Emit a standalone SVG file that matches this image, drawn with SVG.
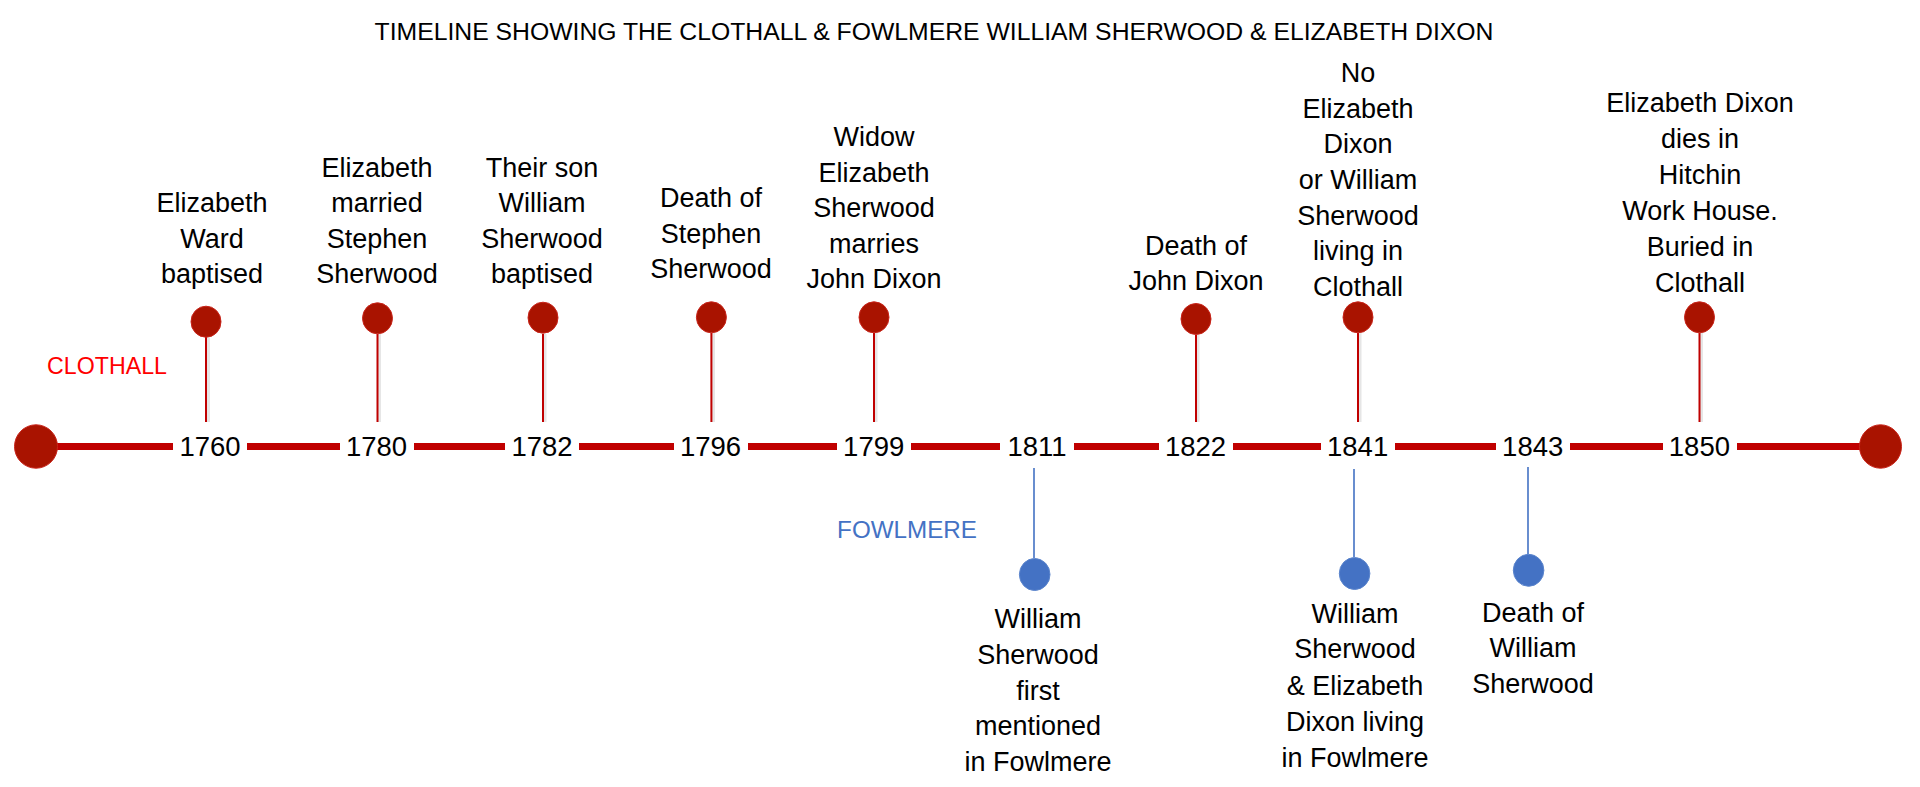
<svg xmlns="http://www.w3.org/2000/svg" width="1920" height="787" viewBox="0 0 1920 787">
<style>
text{font-family:"Liberation Sans",Arial,sans-serif;fill:#000;text-anchor:middle}
.lbl{font-size:27px}
.yr{font-size:27.5px}
.title{font-size:24.75px}
.bar{stroke:#C00000;stroke-width:7;fill:none}
.pin{stroke:#C00000;stroke-width:2;fill:none}
.pinsh{stroke:#e6e6e6;stroke-width:3;fill:none}
.bpin{stroke:#4472C4;stroke-width:1.6;fill:none}
.rdot{fill:#A91300;stroke:#C8241A;stroke-width:1}
.bdot{fill:#4472C4;stroke:#5A84CC;stroke-width:1}
</style>
<rect width="1920" height="787" fill="#fff"/>
<text class="title" x="934" y="40">TIMELINE SHOWING THE CLOTHALL &amp; FOWLMERE WILLIAM SHERWOOD &amp; ELIZABETH DIXON</text>
<text x="107" y="374" style="font-size:23.2px;fill:#FF0000">CLOTHALL</text>
<text x="907" y="538" style="font-size:24.2px;fill:#4472C4">FOWLMERE</text>

<g id="connectors">
<path class="bar" d="M57 446.5H173M247 446.5H340M414 446.5H505M579 446.5H674M748 446.5H837M911 446.5H1000M1074 446.5H1159M1233 446.5H1321M1395 446.5H1496M1570 446.5H1663M1737 446.5H1860"/>
<path class="pinsh" d="M208.5 337V422M379.5 334V422M545 334V422M713.5 333V422M876 333V422M1198 335V422M1360 333V422M1701.5 333V422"/>
<path class="pin" d="M206 337V422M377.5 334V422M543 334V422M711.4 333V422M874 333V422M1196 335V422M1358 333V422M1699.5 333V422"/>
<path class="bpin" d="M1034 468V558M1354 469V557M1528 467V554"/>
</g>

<g id="start"><ellipse class="rdot" cx="36" cy="446.5" rx="21.5" ry="21.7"/></g>
<g id="end"><ellipse class="rdot" cx="1880.5" cy="446.5" rx="21" ry="21.7"/></g>

<g id="y1760"><text class="yr" x="210" y="456">1760</text>
<ellipse class="rdot" cx="206" cy="321.7" rx="15" ry="15.5"/>
<text class="lbl" x="212" y="212">Elizabeth</text><text class="lbl" x="212" y="247.5">Ward</text><text class="lbl" x="212" y="283">baptised</text></g>

<g id="y1780"><text class="yr" x="376.5" y="456">1780</text>
<ellipse class="rdot" cx="377.5" cy="318.3" rx="15" ry="15.5"/>
<text class="lbl" x="377" y="176.5">Elizabeth</text><text class="lbl" x="377" y="212">married</text><text class="lbl" x="377" y="247.5">Stephen</text><text class="lbl" x="377" y="283">Sherwood</text></g>

<g id="y1782"><text class="yr" x="542" y="456">1782</text>
<ellipse class="rdot" cx="543" cy="317.7" rx="15" ry="15.5"/>
<text class="lbl" x="542" y="176.5">Their son</text><text class="lbl" x="542" y="212">William</text><text class="lbl" x="542" y="247.5">Sherwood</text><text class="lbl" x="542" y="283">baptised</text></g>

<g id="y1796"><text class="yr" x="710.5" y="456">1796</text>
<ellipse class="rdot" cx="711.4" cy="317.3" rx="15" ry="15.5"/>
<text class="lbl" x="711" y="207">Death of</text><text class="lbl" x="711" y="242.5">Stephen</text><text class="lbl" x="711" y="278">Sherwood</text></g>

<g id="y1799"><text class="yr" x="873.7" y="456">1799</text>
<ellipse class="rdot" cx="874" cy="317.3" rx="15" ry="15.5"/>
<text class="lbl" x="874" y="146">Widow</text><text class="lbl" x="874" y="181.5">Elizabeth</text><text class="lbl" x="874" y="217">Sherwood</text><text class="lbl" x="874" y="252.5">marries</text><text class="lbl" x="874" y="288">John Dixon</text></g>

<g id="y1811"><text class="yr" x="1037" y="456">1811</text>
<ellipse class="bdot" cx="1034.7" cy="574.5" rx="15.3" ry="16"/>
<text class="lbl" x="1038" y="628.3">William</text><text class="lbl" x="1038" y="664">Sherwood</text><text class="lbl" x="1038" y="699.5">first</text><text class="lbl" x="1038" y="735">mentioned</text><text class="lbl" x="1038" y="770.7">in Fowlmere</text></g>

<g id="y1822"><text class="yr" x="1195.5" y="456">1822</text>
<ellipse class="rdot" cx="1196" cy="319" rx="15" ry="15.5"/>
<text class="lbl" x="1196" y="254.5">Death of</text><text class="lbl" x="1196" y="290">John Dixon</text></g>

<g id="y1841"><text class="yr" x="1357.6" y="456">1841</text>
<ellipse class="rdot" cx="1358" cy="317.3" rx="15" ry="15.5"/>
<text class="lbl" x="1358" y="81.8">No</text><text class="lbl" x="1358" y="117.5">Elizabeth</text><text class="lbl" x="1358" y="153.2">Dixon</text><text class="lbl" x="1358" y="188.9">or William</text><text class="lbl" x="1358" y="224.6">Sherwood</text><text class="lbl" x="1358" y="260.3">living in</text><text class="lbl" x="1358" y="296">Clothall</text>
<ellipse class="bdot" cx="1354.6" cy="573.5" rx="15.3" ry="16"/>
<text class="lbl" x="1355" y="622.7">William</text><text class="lbl" x="1355" y="658.3">Sherwood</text><text class="lbl" x="1355" y="695">&amp; Elizabeth</text><text class="lbl" x="1355" y="730.7">Dixon living</text><text class="lbl" x="1355" y="766.7">in Fowlmere</text></g>

<g id="y1843"><text class="yr" x="1532.7" y="456">1843</text>
<ellipse class="bdot" cx="1528.6" cy="570.3" rx="15.3" ry="16"/>
<text class="lbl" x="1533" y="621.7">Death of</text><text class="lbl" x="1533" y="657.3">William</text><text class="lbl" x="1533" y="693.3">Sherwood</text></g>

<g id="y1850"><text class="yr" x="1699.4" y="456">1850</text>
<ellipse class="rdot" cx="1699.5" cy="317.3" rx="15" ry="15.5"/>
<text class="lbl" x="1700" y="112.4">Elizabeth Dixon</text><text class="lbl" x="1700" y="148.3">dies in</text><text class="lbl" x="1700" y="184.2">Hitchin</text><text class="lbl" x="1700" y="220">Work House.</text><text class="lbl" x="1700" y="255.9">Buried in</text><text class="lbl" x="1700" y="291.8">Clothall</text></g>
</svg>
